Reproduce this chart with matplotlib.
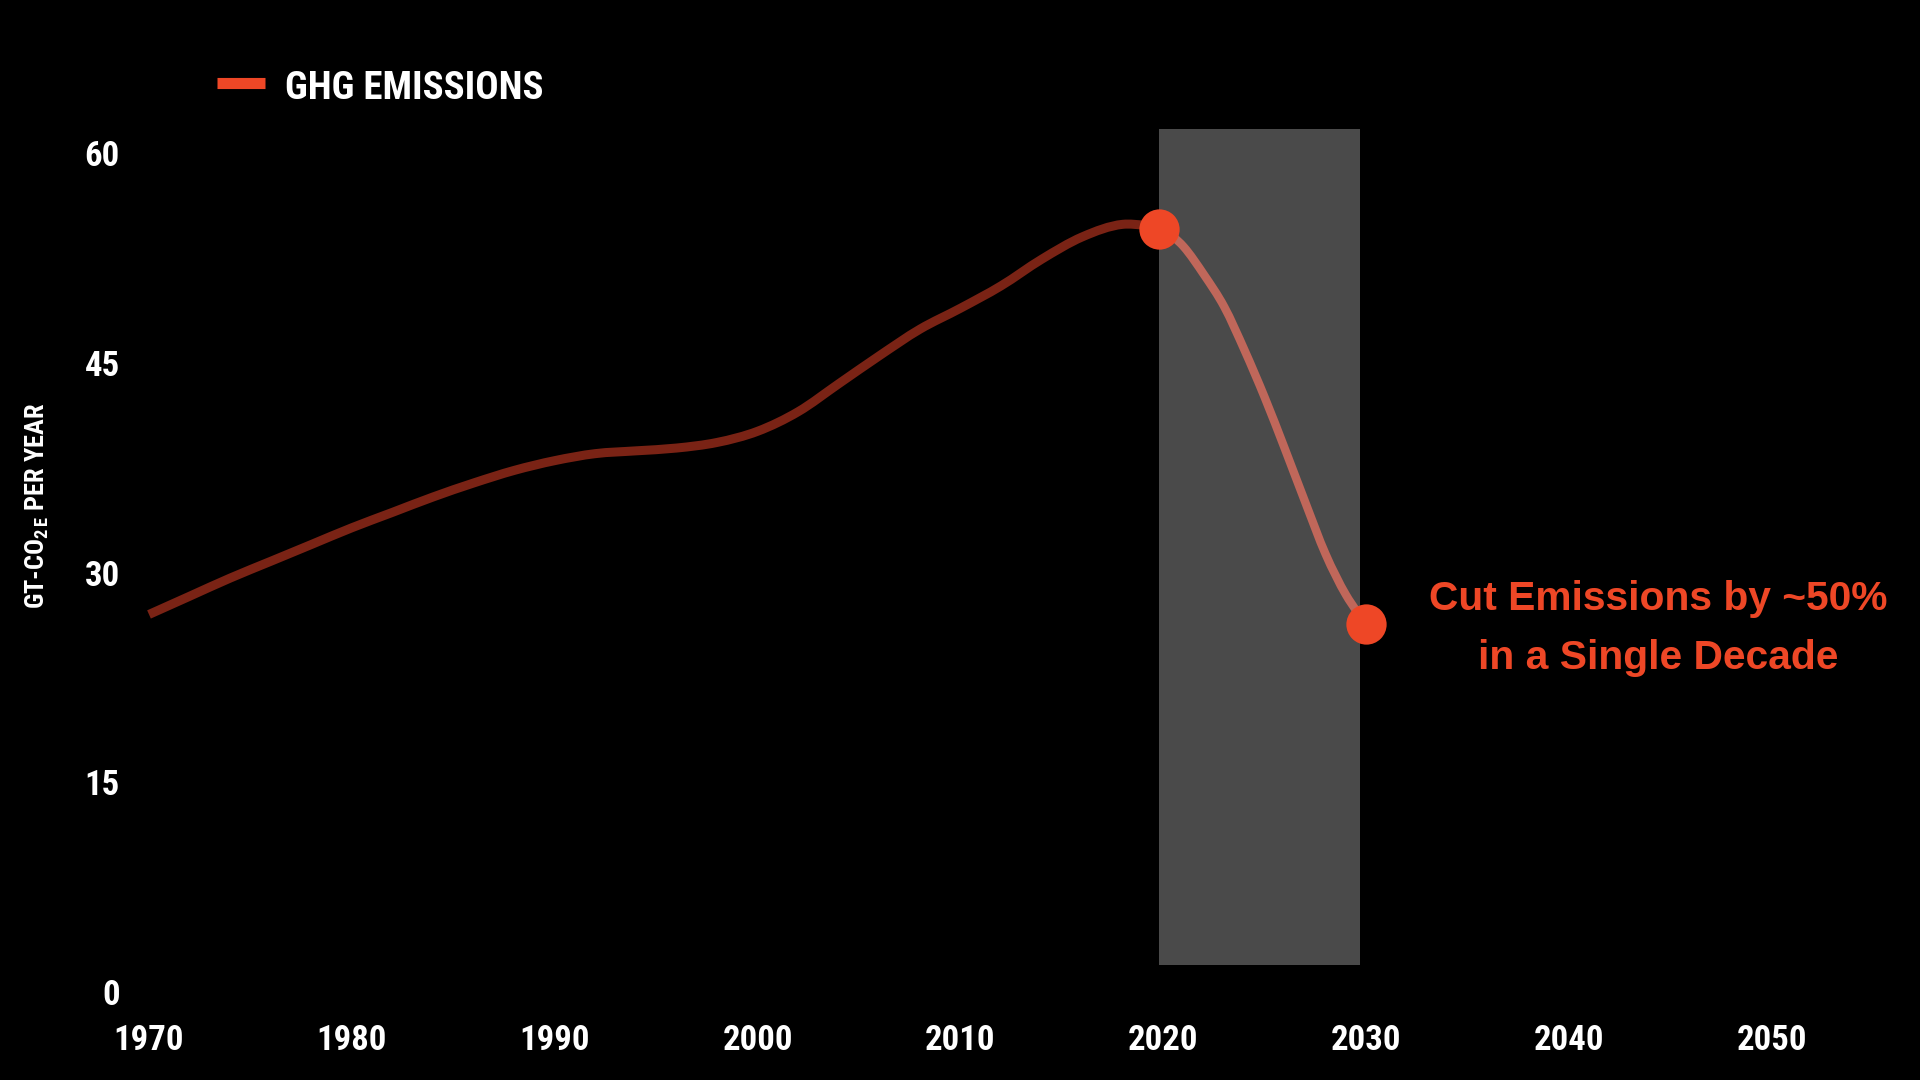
import matplotlib
matplotlib.use("Agg")
import matplotlib.pyplot as plt
from matplotlib import font_manager
from matplotlib.lines import Line2D
from matplotlib.patches import Rectangle, PathPatch
from matplotlib.path import Path

# data (Gt CO2e per year)
hist_years = [1970, 1972, 1974, 1976, 1978, 1980, 1982, 1984, 1986, 1988, 1990, 1992, 1994,
              1996, 1998, 2000, 2002, 2004, 2006, 2008, 2010, 2012, 2014, 2016, 2018, 2020]
hist_values = [27.0, 28.3, 29.6, 30.8, 32.0, 33.2, 34.3, 35.4, 36.4, 37.3, 38.0, 38.5, 38.7,
               38.9, 39.3, 40.1, 41.5, 43.5, 45.5, 47.4, 48.9, 50.5, 52.4, 54.0, 54.9, 54.6]
proj_years = [2020, 2021, 2022, 2023, 2024, 2025, 2026, 2027, 2028, 2029, 2030]
proj_values = [54.6, 53.3, 51.3, 49.0, 45.9, 42.5, 38.8, 35.0, 31.3, 28.4, 26.3]
marker_years = [2019.8, 2030]
marker_values = [54.6, 26.3]
window = (2019.8, 2029.7)   # shaded decade

x_ticks = [1970, 1980, 1990, 2000, 2010, 2020, 2030, 2040, 2050]
y_ticks = [0, 15, 30, 45, 60]

legend_label = "GHG EMISSIONS"
y_label = r"GT-CO$_{\mathbf{2\,E}}$ PER YEAR"
note = "Cut Emissions by ~50%\nin a Single Decade"

ORANGE = "#EE4726"
DARK_RED = "#7A2315"
PROJ = "#C0675A"
GREY = "#4A4A4A"


def smooth_path(xs, ys):
    # catmull-rom through the points, drawn as cubic bezier segments
    pts = list(zip(xs, ys))
    verts = [pts[0]]
    codes = [Path.MOVETO]
    n = len(pts)
    for i in range(n - 1):
        p0 = pts[i - 1] if i > 0 else pts[i]
        p1, p2 = pts[i], pts[i + 1]
        p3 = pts[i + 2] if i + 2 < n else pts[i + 1]
        c1 = (p1[0] + (p2[0] - p0[0]) / 6, p1[1] + (p2[1] - p0[1]) / 6)
        c2 = (p2[0] - (p3[0] - p1[0]) / 6, p2[1] - (p3[1] - p1[1]) / 6)
        verts += [c1, c2, p2]
        codes += [Path.CURVE4] * 3
    return Path(verts, codes)


# pick a narrow font if one is installed
names = {f.name for f in font_manager.fontManager.ttflist}
narrow = next((f for f in ["Liberation Sans Narrow", "Roboto Condensed", "DejaVu Sans"] if f in names),
              "DejaVu Sans")
plt.rcParams["mathtext.fontset"] = "custom"
plt.rcParams["mathtext.rm"] = narrow
plt.rcParams["mathtext.bf"] = narrow + ":bold"

fig = plt.figure(figsize=(19.2, 10.8), dpi=100, facecolor="black")
ax = fig.add_axes([149 / 1920, 88 / 1080, 1623 / 1920, 839 / 1080])
ax.set_facecolor("black")

ax.add_patch(Rectangle((window[0], 1.9), window[1] - window[0], 59.8,
                       facecolor=GREY, edgecolor="none", clip_on=False, zorder=1))

ax.add_patch(PathPatch(smooth_path(hist_years, hist_values), fill=False, edgecolor=DARK_RED,
                       lw=6.5, capstyle="butt", joinstyle="round", clip_on=False, zorder=2))
ax.add_patch(PathPatch(smooth_path(proj_years, proj_values), fill=False, edgecolor=PROJ,
                       lw=6, capstyle="butt", joinstyle="round", clip_on=False, zorder=2))
ax.plot(marker_years, marker_values, "o", color=ORANGE, markersize=29,
        markeredgewidth=0, clip_on=False, zorder=3)

ax.set_xlim(1970, 2050)
ax.set_ylim(0, 60)
ax.set_xticks(x_ticks)
ax.set_yticks(y_ticks)
for s in ax.spines.values():
    s.set_visible(False)
ax.tick_params(length=0, colors="white", labelsize=25)
ax.tick_params(axis="x", pad=23)
ax.tick_params(axis="y", pad=21)
for lab in ax.get_xticklabels() + ax.get_yticklabels():
    lab.set_family(narrow)
    lab.set_fontweight("bold")

ax.text(2044.4, 26.0, note, color=ORANGE, fontsize=29.3, fontweight="bold",
        family="Liberation Sans", ha="center", va="center", multialignment="center",
        linespacing=1.7)

fig.text(37 / 1920, 1 - 506 / 1080, y_label, rotation=90, color="white", fontsize=19,
         fontweight="bold", family=narrow, ha="center", va="center")

# legend drawn by hand
fig.add_artist(Line2D([217 / 1920, 265 / 1920], [1 - 83 / 1080, 1 - 83 / 1080],
                      color=ORANGE, lw=8, solid_capstyle="butt"))
fig.text(285 / 1920, 1 - 99 / 1080, legend_label, color="white", fontsize=28,
         fontweight="bold", family=narrow, ha="left", va="baseline")

fig.savefig("out.png", dpi=100, facecolor="black")
